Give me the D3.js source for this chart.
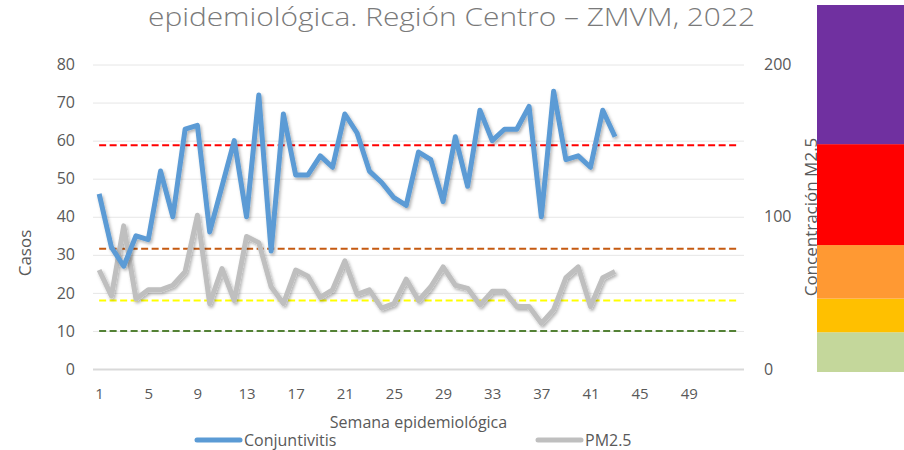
<!DOCTYPE html>
<html>
<head>
<meta charset="utf-8">
<script src="https://cdn.jsdelivr.net/npm/d3@7"></script>
<style>
  body { margin: 0; background: #fff; }
  svg { display: block; font-family: "Open Sans", sans-serif; }
</style>
</head>
<body>
<svg></svg>
<script>
// semanas epidemiologicas (eje x)
let weeks = d3.range(1, 54)
let xTicks = [1, 5, 9, 13, 17, 21, 25, 29, 33, 37, 41, 45, 49]
let leftTicks = [0, 10, 20, 30, 40, 50, 60, 70, 80]
let rightTicks = [0, 100, 200]

// casos de conjuntivitis por semana (1-43)
let conjuntivitis = [46, 32, 27, 35, 34, 52, 40, 63, 64, 36, 48, 60, 40, 72, 31, 67, 51, 51, 56, 53,
    67, 62, 52, 49, 45, 43, 57, 55, 44, 61, 48, 68, 60, 63, 63, 69, 40, 73, 55, 56, 53, 68, 61]

// PM2.5 (eje derecho)
let pm25 = [65, 48, 94, 46, 52, 52, 55, 64, 101, 43, 66, 45, 87, 83, 54, 43, 65, 61, 47, 52,
    71, 49, 52, 40, 43, 59, 45, 54, 67, 55, 53, 42, 51, 51, 41, 41, 30, 39, 60, 67, 41, 60, 64]

// limites de calidad del aire (lineas punteadas)
let limits = [25, 45, 79, 147]
let limitColors = ['#538135', '#FFFF00', '#C55A11', '#FF0000']

// barra de colores a la derecha
let barEdges = [0, 26, 48, 83, 149, 240]
let barColors = ['#C4D79B', '#FFC000', '#FF9933', '#FF0000', '#7030A0']

let width = 904
let height = 450
let plotLeft = 93
let plotRight = 744
let plotTop = 64.5
let plotBottom = 369

let svg = d3.select('svg').attr('width', width).attr('height', height)

let defs = svg.append('defs')
let shadow = defs.append('filter').attr('id', 'shadow')
    .attr('x', '-10%').attr('y', '-10%').attr('width', '120%').attr('height', '120%')
shadow.append('feDropShadow')
    .attr('dx', 1.5).attr('dy', 2).attr('stdDeviation', 1.5)
    .attr('flood-color', '#000').attr('flood-opacity', 0.3)

let xScale = d3.scalePoint().domain(weeks).range([plotLeft, plotRight]).padding(0.5)
let yLeft = d3.scaleLinear().domain([0, 80]).range([plotBottom, plotTop])
let yRight = d3.scaleLinear().domain([0, 200]).range([plotBottom, plotTop])
let yBar = d3.scaleLinear().domain([0, 240]).range([372, 5])

// titulo (solo se ve la segunda linea)
svg.append('text')
    .attr('x', 148).attr('y', 26)
    .attr('font-size', 25).attr('font-weight', 300)
    .attr('textLength', 607).attr('lengthAdjust', 'spacingAndGlyphs')
    .attr('fill', '#7a7a7a')
    .text('epidemiológica. Región Centro – ZMVM, 2022')

// lineas de cuadricula
let grid = svg.append('g').attr('transform', 'translate(' + plotLeft + ',0)')
    .call(d3.axisLeft(yLeft).tickValues(leftTicks).tickSize(-(plotRight - plotLeft)).tickFormat(''))
grid.select('.domain').remove()
grid.selectAll('line')
    .attr('stroke', (d) => d === 0 ? '#d9d9d9' : '#e6e6e6')
    .attr('stroke-width', (d) => d === 0 ? 2 : 1)

// eje izquierdo
let yAxisLeft = svg.append('g').attr('transform', 'translate(' + plotLeft + ',0)')
    .call(d3.axisLeft(yLeft).tickValues(leftTicks).tickSize(0).tickPadding(18))
yAxisLeft.select('.domain').remove()
yAxisLeft.selectAll('text').attr('font-size', 16).attr('fill', '#595959')
    .attr('font-family', '"Open Sans", sans-serif')

// eje derecho
let yAxisRight = svg.append('g').attr('transform', 'translate(' + plotRight + ',0)')
    .call(d3.axisRight(yRight).tickValues(rightTicks).tickSize(0).tickPadding(20))
yAxisRight.select('.domain').remove()
yAxisRight.selectAll('text').attr('font-size', 16).attr('fill', '#595959')
    .attr('font-family', '"Open Sans", sans-serif')

// eje x
let xAxis = svg.append('g').attr('transform', 'translate(0,' + plotBottom + ')')
    .call(d3.axisBottom(xScale).tickValues(xTicks).tickSize(0).tickPadding(19))
xAxis.select('.domain').remove()
xAxis.selectAll('text').attr('font-size', 15).attr('fill', '#595959')
    .attr('font-family', '"Open Sans", sans-serif')

// titulos de ejes
svg.append('text')
    .attr('transform', 'translate(31,253) rotate(-90)')
    .attr('text-anchor', 'middle')
    .attr('font-size', 17).attr('fill', '#595959')
    .text('Casos')

svg.append('text')
    .attr('x', (plotLeft + plotRight) / 2).attr('y', 428)
    .attr('text-anchor', 'middle')
    .attr('font-size', 16).attr('fill', '#595959')
    .text('Semana epidemiológica')

svg.append('text')
    .attr('transform', 'translate(817,217) rotate(-90)')
    .attr('text-anchor', 'middle')
    .attr('font-size', 17).attr('fill', '#595959')
    .text('Concentración M2.5')

// lineas de limites
limits.forEach((lim, i) => {
    let pts = weeks.map((w) => [w, lim])
    svg.append('path')
        .datum(pts)
        .attr('fill', 'none')
        .attr('stroke', limitColors[i])
        .attr('stroke-width', 2)
        .attr('stroke-dasharray', '7,3.5')
        .attr('d', d3.line().x((d) => xScale(d[0])).y((d) => yRight(d[1])))
})

// series
let pmLine = d3.line().x((d, i) => xScale(weeks[i])).y((d) => yRight(d))
svg.append('path')
    .datum(pm25)
    .attr('fill', 'none')
    .attr('stroke', '#BFBFBF')
    .attr('stroke-width', 5)
    .attr('stroke-linejoin', 'round')
    .attr('filter', 'url(#shadow)')
    .attr('d', pmLine)

let conjLine = d3.line().x((d, i) => xScale(weeks[i])).y((d) => yLeft(d))
svg.append('path')
    .datum(conjuntivitis)
    .attr('fill', 'none')
    .attr('stroke', '#5B9BD5')
    .attr('stroke-width', 5)
    .attr('stroke-linejoin', 'round')
    .attr('filter', 'url(#shadow)')
    .attr('d', conjLine)

// barra de colores
svg.selectAll('rect.band')
    .data(barColors)
    .enter()
    .append('rect')
    .attr('class', 'band')
    .attr('x', 817)
    .attr('width', width - 817)
    .attr('y', (d, i) => yBar(barEdges[i + 1]))
    .attr('height', (d, i) => yBar(barEdges[i]) - yBar(barEdges[i + 1]))
    .attr('fill', (d) => d)

// leyenda
let legend = [
    { name: 'Conjuntivitis', color: '#5B9BD5', x: 197 },
    { name: 'PM2.5', color: '#BFBFBF', x: 538 }
]
legend.forEach((item) => {
    svg.append('line')
        .attr('x1', item.x).attr('x2', item.x + 43)
        .attr('y1', 440).attr('y2', 440)
        .attr('stroke', item.color).attr('stroke-width', 5)
        .attr('stroke-linecap', 'round')
    svg.append('text')
        .attr('x', item.x + 47).attr('y', 446)
        .attr('font-size', 16).attr('fill', '#595959')
        .text(item.name)
})
</script>
</body>
</html>
